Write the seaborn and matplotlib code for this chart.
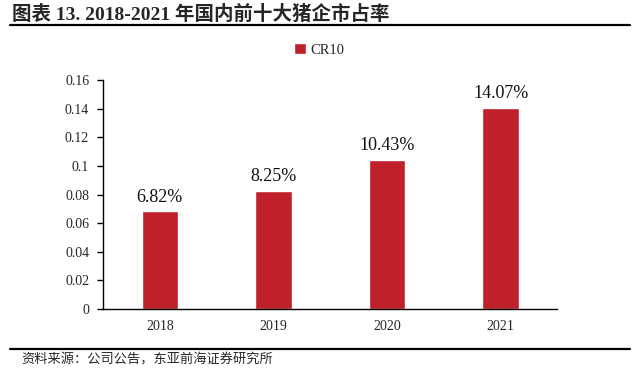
import matplotlib
matplotlib.use("Agg")
import matplotlib.pyplot as plt
import seaborn as sns
import pandas as pd
from matplotlib.lines import Line2D

# data
years = ["2018", "2019", "2020", "2021"]
cr10 = [0.0682, 0.0825, 0.1043, 0.1407]
value_labels = ["6.82%", "8.25%", "10.43%", "14.07%"]
y_ticks = [0, 0.02, 0.04, 0.06, 0.08, 0.1, 0.12, 0.14, 0.16]
y_tick_labels = ["0", "0.02", "0.04", "0.06", "0.08", "0.1", "0.12", "0.14", "0.16"]

sns.set_theme(style="white")
plt.rcParams['font.family'] = ['Liberation Serif', 'Noto Sans CJK SC', 'DejaVu Sans']

df = pd.DataFrame({"year": years, "CR10": cr10})
bar_color = "#C0202A"

fig = plt.figure(figsize=(6.4, 3.72), dpi=100)
ax = fig.add_axes([0.161, 0.169, 0.71, 0.616])

sns.barplot(data=df, x="year", y="CR10", color=bar_color, width=0.32,
            saturation=1, ax=ax, label="CR10")

for i, (v, lab) in enumerate(zip(cr10, value_labels)):
    ax.text(i, v + 0.004, lab, ha="center", va="bottom", fontsize=13, color="#111111")

ax.set_ylim(0, 0.16)
ax.set_xlim(-0.5, 3.5)
ax.set_yticks(y_ticks)
ax.set_yticklabels(y_tick_labels, fontsize=10)
ax.tick_params(axis="x", labelsize=10, length=0, pad=8)
ax.tick_params(axis="y", direction="out", length=4, width=1, color="black", left=True, pad=6)
ax.set_xlabel("")
ax.set_ylabel("")
for s in ["top", "right"]:
    ax.spines[s].set_visible(False)
for s in ["left", "bottom"]:
    ax.spines[s].set_color("black")
    ax.spines[s].set_linewidth(1)

ax.legend(loc="center", bbox_to_anchor=(0.475, 1.131), frameon=False,
          fontsize=10.5, handlelength=0.8, handleheight=0.8, handletextpad=0.3)

# title and footer
fig.text(0.018, 0.962, "图表 13. 2018-2021 年国内前十大猪企市占率", fontsize=14,
         fontweight="bold", va="center", ha="left",
         family=['Liberation Serif', 'Noto Sans CJK SC'])
fig.add_artist(Line2D([0.016, 0.985], [0.932, 0.932], color="black", lw=1.6))
fig.add_artist(Line2D([0.016, 0.985], [0.062, 0.062], color="black", lw=1.6))
fig.text(0.033, 0.032, "资料来源：公司公告，东亚前海证券研究所", fontsize=9.5,
         va="center", ha="left", family=['Noto Sans CJK SC', 'DejaVu Sans'])

fig.savefig("out.png", dpi=100)
